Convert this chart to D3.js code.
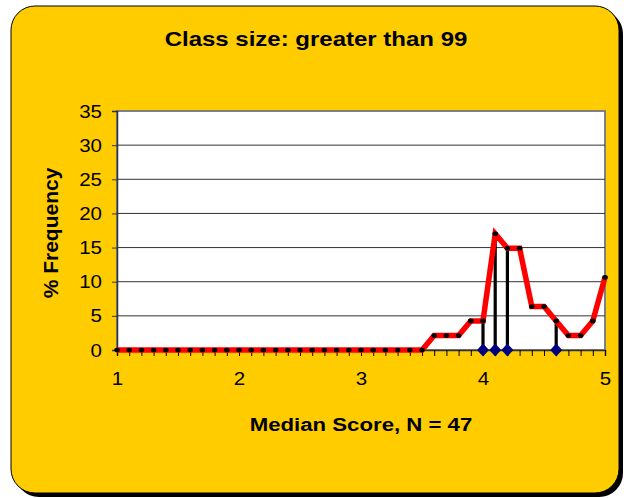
<!DOCTYPE html>
<html>
<head>
<meta charset="utf-8">
<script src="https://cdn.jsdelivr.net/npm/d3@7"></script>
<style>
  html, body { margin: 0; padding: 0; background: #ffffff; }
  svg { display: block; }
  text { font-family: "Liberation Sans", Arial, sans-serif; }
</style>
</head>
<body>
<svg id="chart" width="624" height="498"></svg>
<script>
// ---- data ----
const title = "Class size: greater than 99";
const xTitle = "Median Score, N = 47";
const yTitle = "% Frequency";
const scores = [1.0,1.1,1.2,1.3,1.4,1.5,1.6,1.7,1.8,1.9,
                2.0,2.1,2.2,2.3,2.4,2.5,2.6,2.7,2.8,2.9,
                3.0,3.1,3.2,3.3,3.4,3.5,3.6,3.7,3.8,3.9,
                4.0,4.1,4.2,4.3,4.4,4.5,4.6,4.7,4.8,4.9,5.0];
const freq = [0,0,0,0,0,0,0,0,0,0,
              0,0,0,0,0,0,0,0,0,0,
              0,0,0,0,0,0,2.13,2.13,2.13,4.26,
              4.26,17.02,14.89,14.89,6.38,6.38,4.26,2.13,2.13,4.26,10.64];
const markerX = [4.0, 4.1, 4.2, 4.6];
const markerY = [4.26, 17.02, 14.89, 4.26];
const xTicks = [1, 2, 3, 4, 5];
const yTicks = [0, 5, 10, 15, 20, 25, 30, 35];

// ---- layout ----
const svg = d3.select("#chart");
const plot = { left: 117, top: 111, right: 605, bottom: 350 };
const SX = 1.08; // horizontal stretch of tick text

// frame with shadow
svg.append("rect").attr("x", 15).attr("y", 10).attr("width", 608).attr("height", 487)
  .attr("rx", 24).attr("ry", 24).attr("fill", "#000");
svg.append("rect").attr("x", 11).attr("y", 6).attr("width", 608).attr("height", 487)
  .attr("rx", 24).attr("ry", 24).attr("fill", "#FFCC00").attr("stroke", "#000").attr("stroke-width", 1);

const x = d3.scaleLinear().domain([1, 5]).range([plot.left, plot.right]);
const y = d3.scaleLinear().domain([0, 35]).range([plot.bottom, plot.top]);

// plot area
svg.append("rect").attr("x", plot.left).attr("y", plot.top)
  .attr("width", plot.right - plot.left).attr("height", plot.bottom - plot.top)
  .attr("fill", "#fff").attr("stroke", "#808080").attr("stroke-width", 2);

// gridlines
svg.append("g").selectAll("line").data(yTicks.filter(d => d > 0 && d < 35)).join("line")
  .attr("x1", plot.left).attr("x2", plot.right)
  .attr("y1", d => y(d)).attr("y2", d => y(d))
  .attr("stroke", "#333").attr("stroke-width", 1);

// y axis
const yAxis = svg.append("g").attr("transform", `translate(${plot.left},0)`)
  .call(d3.axisLeft(y).tickValues(yTicks).tickSize(5).tickPadding(10).tickFormat(d3.format("d")));
yAxis.select(".domain").attr("stroke", "#333").attr("stroke-width", 1.5);
yAxis.selectAll(".tick line").attr("stroke", "#333");
yAxis.selectAll("text").attr("font-size", 19).attr("fill", "#000")
  .attr("font-family", "Liberation Sans, Arial, sans-serif")
  .attr("x", -15 / SX).attr("transform", `scale(${SX},1)`);

// x axis minor ticks (one per category)
const xAxisMinor = svg.append("g").attr("transform", `translate(0,${plot.bottom})`)
  .call(d3.axisBottom(x).tickValues(scores).tickSize(6).tickFormat(""));
xAxisMinor.select(".domain").attr("stroke", "#333").attr("stroke-width", 1.5);
xAxisMinor.selectAll(".tick line").attr("stroke", "#000");

// x axis labels
const xAxis = svg.append("g").attr("transform", `translate(0,${plot.bottom})`)
  .call(d3.axisBottom(x).tickValues(xTicks).tickSize(0).tickPadding(22).tickFormat(d3.format("d")));
xAxis.select(".domain").remove();
xAxis.selectAll("text").attr("font-size", 19).attr("fill", "#000")
  .attr("font-family", "Liberation Sans, Arial, sans-serif")
  .attr("transform", `scale(${SX},1)`);

// drop lines
svg.append("g").selectAll("line").data(markerX).join("line")
  .attr("x1", d => x(d)).attr("x2", d => x(d))
  .attr("y1", y(0)).attr("y2", (d, i) => y(markerY[i]))
  .attr("stroke", "#000").attr("stroke-width", 3.2);

// red line
const pts = scores.map((s, i) => [s, freq[i]]);
svg.append("path").datum(pts)
  .attr("d", d3.line().x(d => x(d[0])).y(d => y(d[1])))
  .attr("fill", "none").attr("stroke", "#FF0000").attr("stroke-width", 5.5)
  .attr("stroke-linejoin", "miter");

// black dots
svg.append("g").selectAll("ellipse").data(pts).join("ellipse")
  .attr("cx", d => x(d[0])).attr("cy", d => y(d[1]))
  .attr("rx", 2.8).attr("ry", 2.3).attr("fill", "#000");

// blue diamonds
svg.append("g").selectAll("path").data(markerX).join("path")
  .attr("transform", d => `translate(${x(d)},${y(0)})`)
  .attr("d", "M0,-6.5 L6,0 L0,6.5 L-6,0 Z")
  .attr("fill", "#000080");

// titles
svg.append("text").attr("transform", `translate(316,46) scale(1.2,1)`).attr("text-anchor", "middle")
  .attr("font-size", 20).attr("font-weight", "bold").text(title);
svg.append("text").attr("transform", `translate(${(plot.left + plot.right) / 2},431) scale(1.2,1)`)
  .attr("text-anchor", "middle")
  .attr("font-size", 18.5).attr("font-weight", "bold").text(xTitle);
svg.append("text").attr("transform", "translate(58,233) rotate(-90)").attr("text-anchor", "middle")
  .attr("font-size", 21).attr("font-weight", "bold").text(yTitle);
</script>
</body>
</html>
